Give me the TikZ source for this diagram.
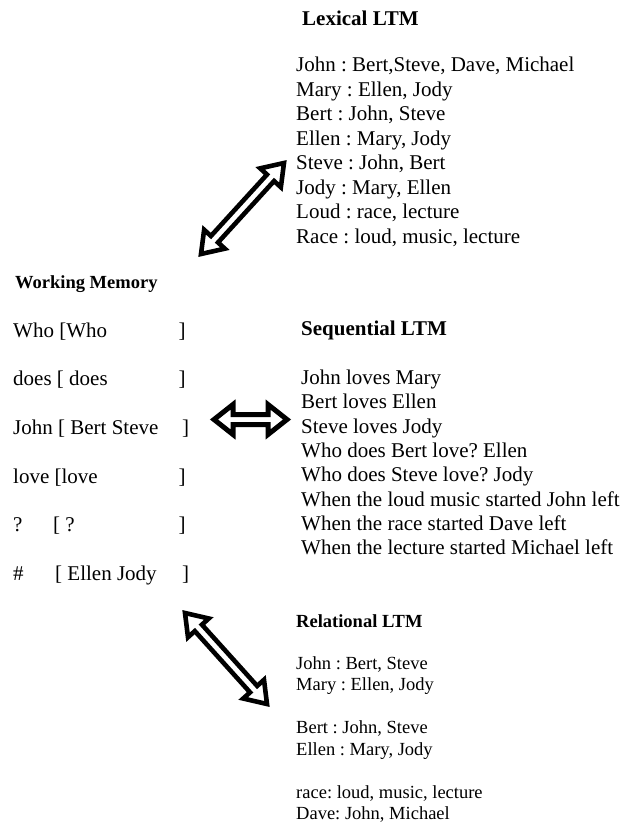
\documentclass[tikz,border=0pt]{standalone}
\usepackage{fontspec}
\setmainfont{Liberation Serif}
\usetikzlibrary{calc}
\frenchspacing
\newcommand\blockarrow[6]{%
  \coordinate (#1h) at ($(#1)!#5!(#2)$);
  \coordinate (#2h) at ($(#2)!#5!(#1)$);
  \draw[arrowline, line width=#6] (#1)
    -- ($(#1h)!#3!90:(#2)$) -- ($(#1h)!#4!90:(#2)$)
    -- ($(#2h)!#4!-90:(#1)$) -- ($(#2h)!#3!-90:(#1)$)
    -- (#2)
    -- ($(#2h)!#3!90:(#1)$) -- ($(#2h)!#4!90:(#1)$)
    -- ($(#1h)!#4!-90:(#2)$) -- ($(#1h)!#3!-90:(#2)$)
    -- cycle;}
\tikzset{
  txt/.style={anchor=base west, inner sep=0pt, font=\fontsize{21}{24}\selectfont\frenchspacing},
  hd/.style={anchor=base west, inner sep=0pt, font=\fontsize{21}{24}\selectfont\bfseries},
  hdsmall/.style={anchor=base west, inner sep=0pt, font=\fontsize{18.5}{22}\selectfont\bfseries},
  txtsmall/.style={anchor=base west, inner sep=0pt, font=\fontsize{18.5}{22}\selectfont\frenchspacing},
  arrowline/.style={draw=black, fill=white, line join=miter, miter limit=10}
}
\begin{document}
\begin{tikzpicture}[x=1pt, y=-1pt]
\useasboundingbox (0,0) rectangle (635,825);
% Lexical LTM
\node[hd] (lexh) at (302,25) {Lexical LTM};
\foreach \t [count=\i from 0] in {{John : Bert,Steve, Dave, Michael},{Mary : Ellen, Jody},{Bert : John, Steve},{Ellen : Mary, Jody},{Steve : John, Bert},{Jody : Mary, Ellen},{Loud : race, lecture},{Race : loud, music, lecture}}
  \node[txt] (lex\i) at (296,71.5+24.5*\i) {\t};
% Sequential LTM
\node[hd] (seqh) at (301,335) {Sequential LTM};
\foreach \t [count=\i from 0] in {{John loves Mary},{Bert loves Ellen},{Steve loves Jody},{Who does Bert love? Ellen},{Who does Steve love? Jody},{When the loud music started John left},{When the race started Dave left},{When the lecture started Michael left}}
  \node[txt] (seq\i) at (301,384.5+24.3*\i) {\t};
% Relational LTM
\node[hdsmall] (relh) at (296,627) {Relational LTM};
\foreach \t/\k in {{John : Bert, Steve}/0,{Mary : Ellen, Jody}/1,{Bert : John, Steve}/3,{Ellen : Mary, Jody}/4,{race: loud, music, lecture}/6,{Dave: John, Michael}/7}
  \node[txtsmall] (rel\k) at (296,669.3+21.5*\k) {\t};
% Working Memory
\node[hdsmall] (wmh) at (15,288) {Working Memory};
\node[txt] (wm0) at (13,337) {Who [Who};
\node[txt] (wm1) at (13,385.7) {does [ does};
\node[txt] (wm2) at (13,434.4) {John [ Bert Steve};
\node[txt] (wm3) at (13,483.1) {love [love};
\node[txt] (wm4) at (13,531.8) {?};
\node[txt] (wm4b) at (53,531.8) {[ ?};
\node[txt] (wm5) at (13,580.5) {\#};
\node[txt] (wm5b) at (55,580.5) {[ Ellen Jody};
\node[txt] (br0) at (178.5,337) {]};
\node[txt] (br1) at (178.5,385.7) {]};
\node[txt] (br2) at (182,434.4) {]};
\node[txt] (br3) at (178.5,483.1) {]};
\node[txt] (br4) at (178.5,531.8) {]};
\node[txt] (br5) at (182,580.5) {]};
% arrows
\coordinate (la) at (284,163);
\coordinate (lb) at (201,254);
\coordinate (ha) at (214,419.5);
\coordinate (hb) at (287,419.5);
\coordinate (ra) at (185,613);
\coordinate (rb) at (267,704);
\blockarrow{la}{lb}{14pt}{4.8pt}{20pt}{4.6pt}
\blockarrow{ha}{hb}{15pt}{5pt}{19pt}{5pt}
\blockarrow{ra}{rb}{14pt}{4.8pt}{20pt}{4.6pt}
\end{tikzpicture}
\end{document}
